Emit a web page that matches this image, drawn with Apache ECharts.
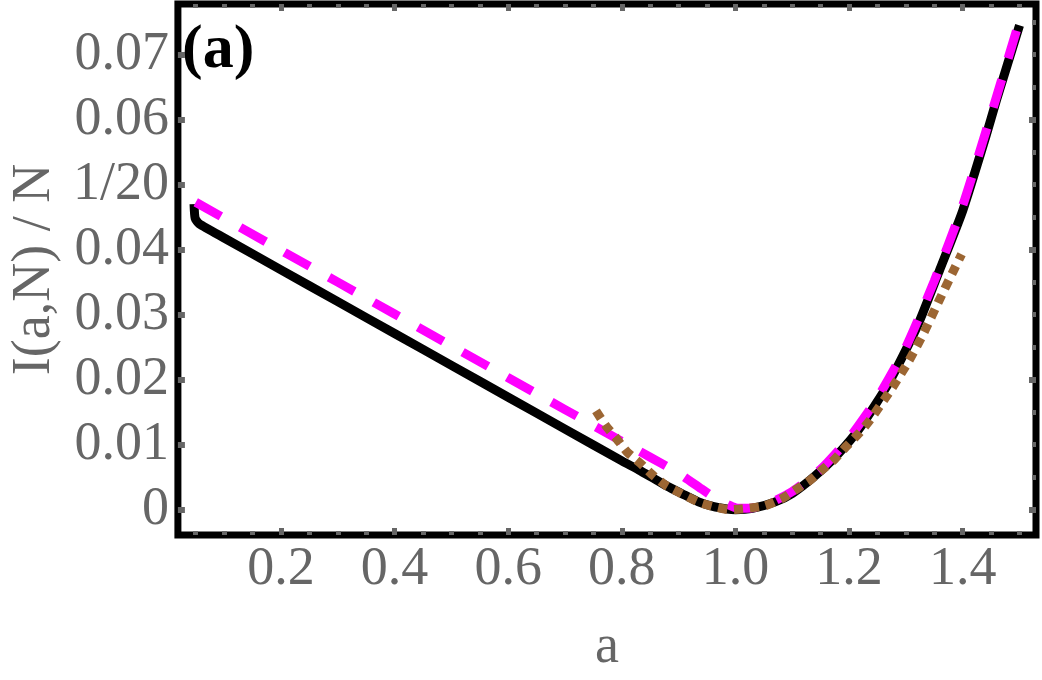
<!DOCTYPE html>
<html>
<head>
<meta charset="utf-8">
<script src="https://cdn.jsdelivr.net/npm/echarts@6/dist/echarts.min.js"></script>
<style>
  html, body { margin: 0; padding: 0; background: #fff; }
  #chart { width: 1042px; height: 680px; }
</style>
</head>
<body>
<div id="chart"></div>
<script>
// exact curve I(a,N)/N (black)
const blackA = [0.047, 0.049, 0.056, 0.1, 0.2, 0.3, 0.4, 0.5, 0.6, 0.7, 0.8, 0.83, 0.856, 0.88, 0.905, 0.935, 0.96, 0.985, 1.0,
  1.03, 1.07, 1.1, 1.14, 1.18, 1.22, 1.27, 1.32, 1.36, 1.40, 1.44, 1.46, 1.50];
const blackV = [0.0470, 0.0448, 0.0440, 0.0418, 0.0369, 0.0320, 0.0271, 0.0222, 0.0173, 0.0124, 0.0075, 0.0061, 0.0048, 0.0036, 0.0025, 0.0012, 0.0005, 0.0001, 0.0,
  0.0002, 0.0012, 0.0025, 0.0052, 0.0085, 0.0127, 0.0195, 0.0282, 0.0370, 0.0460, 0.0572, 0.0632, 0.0745];

// magenta dashed approximation
const magA = [0.05, 0.2, 0.4, 0.6, 0.8, 0.9, 0.94, 0.97, 1.0, 1.02, 1.05, 1.1, 1.15, 1.2, 1.25, 1.3, 1.35, 1.4, 1.45, 1.495];
const magV = [0.0473, 0.0399, 0.0301, 0.0203, 0.0105, 0.0056, 0.0032, 0.0015, 0.0003, 0.0002, 0.0006, 0.0028, 0.0062, 0.0110, 0.0172, 0.0250, 0.0352, 0.0468, 0.0608, 0.0738];

// brown dotted approximation
const brownA = [0.7545, 0.772, 0.791, 0.809, 0.833, 0.856, 0.878, 0.904, 0.934, 0.96, 0.99, 1.02, 1.052, 1.082, 1.105, 1.131,
  1.155, 1.175, 1.196, 1.217, 1.236, 1.271, 1.304, 1.332, 1.358, 1.384, 1.398];
const brownV = [0.0152, 0.0129, 0.0109, 0.0089, 0.0071, 0.0052, 0.0037, 0.0025, 0.0012, 0.0005, 0.0, 0.0002, 0.0006, 0.0017, 0.0030, 0.0045,
  0.0063, 0.0078, 0.0098, 0.0117, 0.0137, 0.0181, 0.0227, 0.0273, 0.0321, 0.0368, 0.0393];

// ticks
const xMajor = [0.2, 0.4, 0.6, 0.8, 1.0, 1.2, 1.4];
const xMinor = [0.05, 0.1, 0.15, 0.25, 0.3, 0.35, 0.45, 0.5, 0.55, 0.65, 0.7, 0.75, 0.85, 0.9, 0.95,
  1.05, 1.1, 1.15, 1.25, 1.3, 1.35, 1.45, 1.5];
const yLeftTicks = [0, 0.01, 0.02, 0.03, 0.04, 0.05, 0.06, 0.07];
const yLeftLabels = ['0', '0.01', '0.02', '0.03', '0.04', '1/20', '0.06', '0.07'];
const yRightMajor = [0, 0.02, 0.04, 0.06];
const yRightMinor = [0.005, 0.01, 0.015, 0.025, 0.03, 0.035, 0.045, 0.05, 0.055, 0.065, 0.07, 0.075];

const zip = (xs, ys) => xs.map((x, i) => [x, ys[i]]);
const FONT = '"Liberation Serif", "Times New Roman", serif';
const TICK = '#666';

function xAx(pos, vals, len, w, extra) {
  return Object.assign({
    type: 'value', position: pos, min: 0.0186, max: 1.529,
    axisLine: { show: false, onZero: false }, splitLine: { show: false },
    axisTick: { show: true, inside: true, customValues: vals, length: len, lineStyle: { color: TICK, width: w } },
    axisLabel: { show: false }
  }, extra || {});
}
function yAx(pos, vals, len, w, extra) {
  return Object.assign({
    type: 'value', position: pos, min: -0.0039, max: 0.0778,
    axisLine: { show: false, onZero: false }, splitLine: { show: false },
    axisTick: { show: true, inside: true, customValues: vals, length: len, lineStyle: { color: TICK, width: w } },
    axisLabel: { show: false }
  }, extra || {});
}

const chart = echarts.init(document.getElementById('chart'), null, { renderer: 'canvas' });
chart.setOption({
  animation: false,
  backgroundColor: '#fff',
  grid: { left: 170, right: 6, top: 4, bottom: 143.5, show: true, borderColor: '#000', borderWidth: 7, backgroundColor: 'transparent' },
  xAxis: [
    xAx('bottom', xMajor, 7, 5, {
      name: 'a', nameLocation: 'middle', nameGap: 86,
      nameTextStyle: { fontFamily: FONT, fontSize: 54, color: '#666' },
      axisLabel: {
        show: true, customValues: xMajor, margin: 8,
        fontFamily: FONT, fontSize: 54, color: '#666',
        formatter: v => v.toFixed(1)
      }
    }),
    xAx('bottom', xMinor, 4, 5),
    xAx('top', xMajor, 7, 5),
    xAx('top', xMinor, 4, 5)
  ],
  yAxis: [
    yAx('left', yLeftTicks, 7, 6, {
      name: 'I(a,N) / N', nameLocation: 'middle', nameGap: 108, nameRotate: 90,
      nameTextStyle: { fontFamily: FONT, fontSize: 54, color: '#666' },
      axisLabel: {
        show: true, customValues: yLeftTicks, margin: 9,
        fontFamily: FONT, fontSize: 54, color: '#666',
        formatter: v => {
          const i = yLeftTicks.findIndex(t => Math.abs(t - v) < 1e-9);
          return i >= 0 ? yLeftLabels[i] : '';
        }
      }
    }),
    yAx('right', yRightMajor, 7, 6),
    yAx('right', yRightMinor, 4, 5)
  ],
  graphic: [{
    type: 'text', left: 182, top: 20, z: 10,
    style: { text: '(a)', fontFamily: FONT, fontWeight: 'bold', fontSize: 62, fill: '#000' }
  }],
  series: [
    {
      name: 'exact', type: 'line', xAxisIndex: 0, yAxisIndex: 0, data: zip(blackA, blackV),
      showSymbol: false, symbol: 'none', smooth: 0.2, z: 2,
      lineStyle: { color: '#000', width: 9, join: 'round' }
    },
    {
      name: 'dashed', type: 'line', xAxisIndex: 0, yAxisIndex: 0, data: zip(magA, magV),
      showSymbol: false, symbol: 'none', smooth: 0.2, z: 3,
      lineStyle: { color: '#ff00ff', width: 9, type: [29, 22], cap: 'butt' }
    },
    {
      name: 'dotted', type: 'line', xAxisIndex: 0, yAxisIndex: 0, data: zip(brownA, brownV),
      showSymbol: false, symbol: 'none', smooth: 0.2, z: 4,
      lineStyle: { color: '#9c6633', width: 9, type: [9, 7], cap: 'butt' }
    }
  ]
});
</script>
</body>
</html>
